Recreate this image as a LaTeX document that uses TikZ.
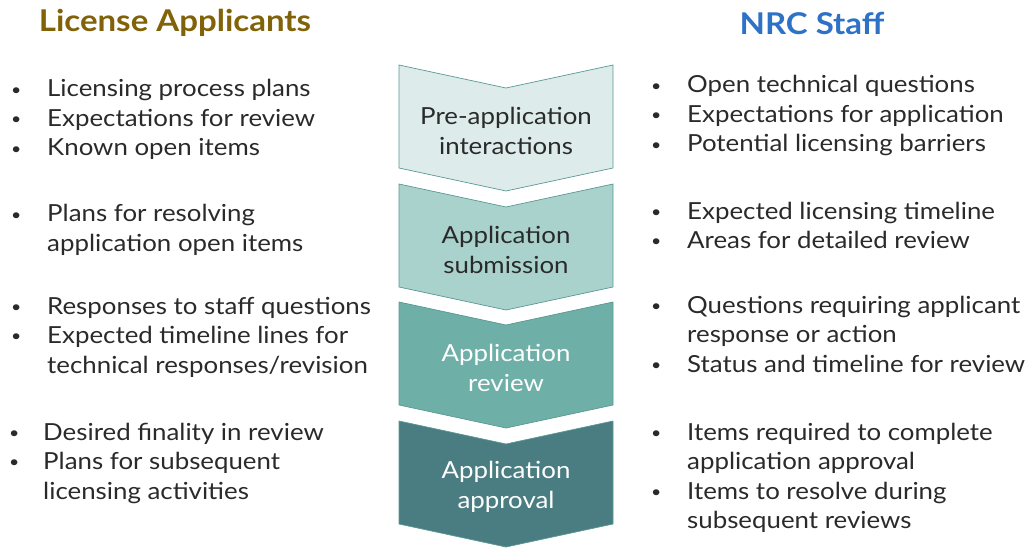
\documentclass[tikz,border=0pt]{standalone}
\usepackage{fontspec}
\setmainfont{Lato}[FakeStretch=1.1]
\usetikzlibrary{positioning}
\definecolor{goldhead}{HTML}{826208}
\definecolor{bluehead}{HTML}{2E72C6}
\definecolor{bodytext}{HTML}{2A2A2A}
\definecolor{stepedge}{HTML}{5A9894}
\definecolor{stepA}{HTML}{DDECEB}
\definecolor{stepB}{HTML}{A9D2CD}
\definecolor{stepC}{HTML}{6EB0A8}
\definecolor{stepD}{HTML}{4A7D81}
\newcommand{\pointlist}[2]{\begin{tabular}[t]{@{}p{#1}@{}l@{}}#2\end{tabular}}
\newcommand{\dotmark}{\raisebox{1.6pt}{\fontsize{16}{16}\selectfont\textbullet}}

\begin{document}
\begin{tikzpicture}[x=1pt,y=-1pt,
  heading/.style={font=\fontsize{30}{34}\selectfont\bfseries, inner sep=0pt},
  points/.style={font=\fontsize{23.5}{29.5}\selectfont, text=bodytext, inner sep=0pt, anchor=base west},
  steplabel/.style={font=\fontsize{23.5}{29.5}\selectfont, align=center, inner sep=0pt}]
\useasboundingbox (0,0) rectangle (1025,548);

\node[heading, text=goldhead] (applicants) at (175,23) {License Applicants};
\node[heading, text=bluehead] (staff) at (812,23) {NRC Staff};

% the four stages
\foreach \ytop/\shade/\ink/\txt [count=\i] in {
    65/stepA/bodytext/{Pre-application\\interactions},
    184/stepB/bodytext/{Application\\submission},
    302/stepC/white/{Application\\review},
    421/stepD/white/{Application\\approval}}{
  \filldraw[fill=\shade, draw=stepedge, line width=0.7pt]
    (399,\ytop) -- (506,\ytop+23) -- (613,\ytop) -- (613,\ytop+103)
    -- (506,\ytop+126) -- (399,\ytop+103) -- cycle;
  \node[steplabel, text=\ink] (step\i) at (506,\ytop+66) {\txt};
}

% applicant side
\node[points] (app1) at (11,97) {\pointlist{36pt}{%
  \dotmark & Licensing process plans\\
  \dotmark & Expectations for review\\
  \dotmark & Known open items}};
\node[points] (app2) at (11,222) {\pointlist{36pt}{%
  \dotmark & Plans for resolving\\
  & application open items}};
\node[points] (app3) at (11,314) {\pointlist{36pt}{%
  \dotmark & Responses to staff questions\\
  \dotmark & Expected timeline lines for\\
  & technical responses/revision}};
\node[points] (app4) at (9,440) {\pointlist{34pt}{%
  \dotmark & Desired finality in review\\
  \dotmark & Plans for subsequent\\
  & licensing activities}};

% staff side
\node[points] (nrc1) at (651,93) {\pointlist{36pt}{%
  \dotmark & Open technical questions\\
  \dotmark & Expectations for application\\
  \dotmark & Potential licensing barriers}};
\node[points] (nrc2) at (651,219) {\pointlist{36pt}{%
  \dotmark & Expected licensing timeline\\
  \dotmark & Areas for detailed review}};
\node[points] (nrc3) at (651,313) {\pointlist{36pt}{%
  \dotmark & Questions requiring applicant\\
  & response or action\\
  \dotmark & Status and timeline for review}};
\node[points] (nrc4) at (651,440) {\pointlist{36pt}{%
  \dotmark & Items required to complete\\
  & application approval\\
  \dotmark & Items to resolve during\\
  & subsequent reviews}};
\end{tikzpicture}
\end{document}
